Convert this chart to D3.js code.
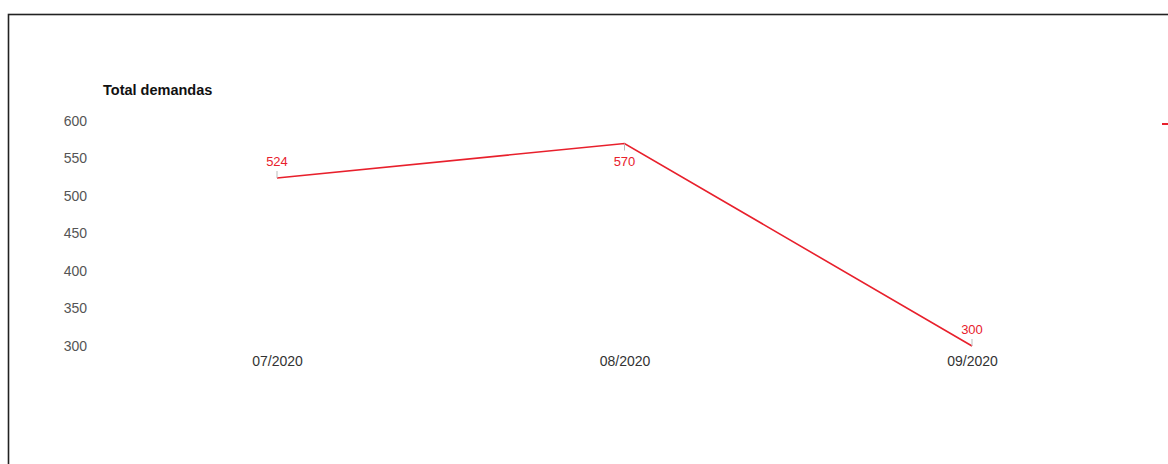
<!DOCTYPE html>
<html><head><meta charset="utf-8">
<script src="https://cdn.jsdelivr.net/npm/d3@7"></script>
<style>
html,body{margin:0;padding:0;background:#fff;}
svg{display:block;font-family:"Liberation Sans",Arial,sans-serif;}
</style></head>
<body><svg id="c" width="1168" height="464"></svg>
<script>
const categories = ["07/2020","08/2020","09/2020"];
const values = [524, 570, 300];
const yTicks = [300, 350, 400, 450, 500, 550, 600];
const yTitle = "Total demandas";

const svg = d3.select("#c");
const red = "#e8202c";

// frame
svg.append("rect").attr("x",8.5).attr("y",14.5).attr("width",1180).attr("height",470)
  .attr("fill","none").attr("stroke","#222").attr("stroke-width",1.6);

const x = d3.scalePoint().domain(categories).range([277, 972]).padding(0);
const y = d3.scaleLinear().domain([300, 600]).range([346, 121]);

// y axis
const yAxis = d3.axisLeft(y).tickValues(yTicks).tickSize(0).tickPadding(0).tickFormat(d3.format("d"));
const gy = svg.append("g").attr("transform","translate(87,0)").call(yAxis);
gy.select(".domain").remove();
gy.selectAll("text").attr("font-size",14).attr("fill","#555").attr("font-family","Liberation Sans, Arial, sans-serif");

// x axis
const xAxis = d3.axisBottom(x).tickSize(0).tickPadding(0);
const gx = svg.append("g").attr("transform","translate(0,356)").call(xAxis);
gx.select(".domain").remove();
gx.selectAll("text").attr("font-size",14).attr("fill","#333").attr("font-family","Liberation Sans, Arial, sans-serif");

// title
svg.append("text").attr("x",103).attr("y",95).attr("font-size",14.5).attr("font-weight","bold")
  .attr("fill","#111").text(yTitle);

// line
const line = d3.line().x((d,i)=>x(categories[i])).y(d=>y(d));
svg.append("path").datum(values).attr("d",line).attr("fill","none")
  .attr("stroke",red).attr("stroke-width",1.6);

// labels with small leader ticks
const placeBelow = [false, true, false];
values.forEach((v,i)=>{
  const px = x(categories[i]), py = y(v);
  const below = placeBelow[i];
  svg.append("line").attr("x1",px).attr("x2",px)
    .attr("y1", below ? py : py-7).attr("y2", below ? py+7 : py)
    .attr("stroke","#bbb").attr("stroke-width",1);
  svg.append("text").attr("x",px).attr("y", below ? py+22 : py-12)
    .attr("text-anchor","middle").attr("font-size",13).attr("fill",red).text(v);
});

// legend marker (its text lies outside the visible area)
svg.append("line").attr("x1",1162).attr("x2",1180).attr("y1",124).attr("y2",124)
  .attr("stroke",red).attr("stroke-width",2);
</script>
</body></html>
